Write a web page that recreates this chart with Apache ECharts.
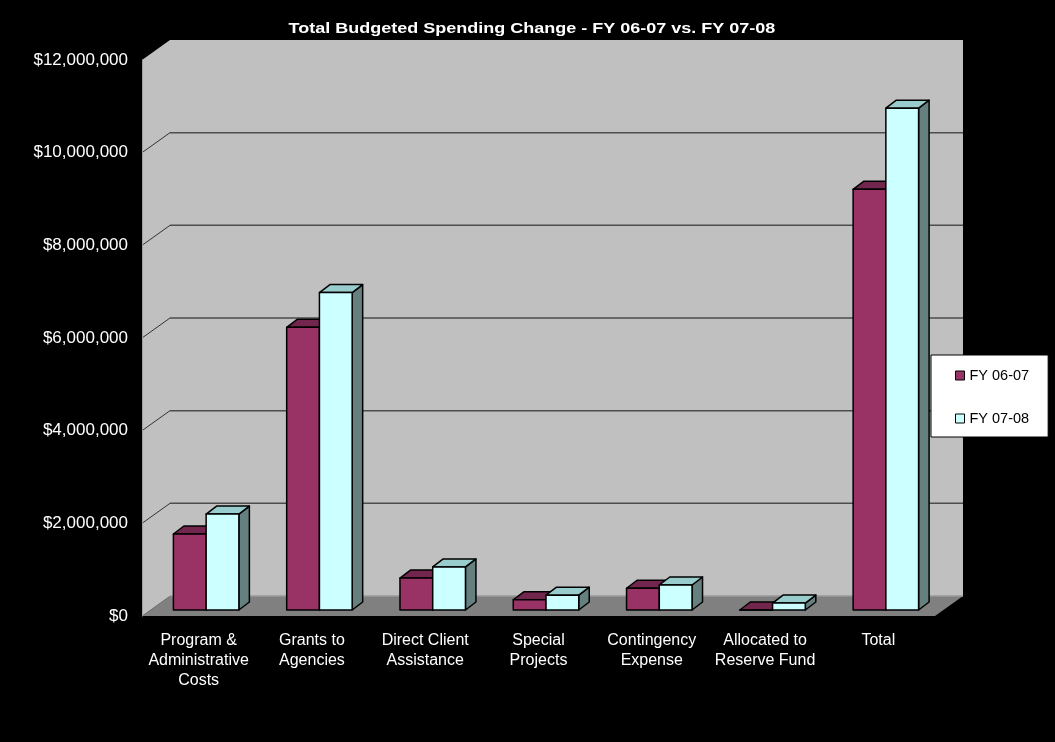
<!DOCTYPE html>
<html>
<head>
<meta charset="utf-8">
<script src="https://cdn.jsdelivr.net/npm/echarts@6/dist/echarts.min.js"></script>
<style>html,body{margin:0;padding:0;background:#000;}#c{width:1055px;height:742px;}</style>
</head>
<body>
<div id="c"></div>
<script>
// ---- data ----
const chartTitle = 'Total Budgeted Spending Change - FY 06-07 vs. FY 07-08';
const categories = ['Program &\nAdministrative\nCosts', 'Grants to\nAgencies', 'Direct Client\nAssistance', 'Special\nProjects', 'Contingency\nExpense', 'Allocated to\nReserve Fund', 'Total'];
const seriesNames = ['FY 06-07', 'FY 07-08'];
const fy0607 = [1640000, 6100000, 690000, 220000, 470000, 0, 9080000];
const fy0708 = [2070000, 6850000, 930000, 320000, 540000, 150000, 10830000];
const yMin = 0, yMax = 12000000, yInterval = 2000000;
const gridTicks = [2000000, 4000000, 6000000, 8000000, 10000000];

// ---- style ----
const FONT = 'Liberation Sans, Arial, sans-serif';
const DEPTH_X = 28, DEPTH_Y = -20;       // wall depth offset
const SHIFT_X = 7.5, SHIFT_Y = -6;       // bar plane offset from front
const BAR_DX = 10.5, BAR_DY = -8;        // bar depth
const BAR_FRAC = 0.289;
const palettes = [
  {front: '#993366', top: '#73264D', side: '#66223F'},
  {front: '#CCFFFF', top: '#99CCCC', side: '#668080'}
];

function fmt(v) { return '$' + v.toString().replace(/\B(?=(\d{3})+(?!\d))/g, ','); }

function wallRender(params, api) {
  const cs = params.coordSys;
  const L = cs.x, R = cs.x + cs.width, T = cs.y, B = cs.y + cs.height;
  const children = [
    {type: 'polygon', shape: {points: [[L, T], [L + DEPTH_X, T + DEPTH_Y], [L + DEPTH_X, B + DEPTH_Y], [L, B]]}, style: {fill: '#C0C0C0'}},
    {type: 'rect', shape: {x: L + DEPTH_X, y: T + DEPTH_Y, width: R - L, height: B - T}, style: {fill: '#C0C0C0'}},
    {type: 'polygon', shape: {points: [[L, B], [R, B], [R + DEPTH_X, B + DEPTH_Y], [L + DEPTH_X, B + DEPTH_Y]]}, style: {fill: '#808080'}},
    {type: 'line', shape: {x1: L + DEPTH_X, y1: B + DEPTH_Y, x2: R + DEPTH_X, y2: B + DEPTH_Y}, style: {stroke: '#9a9a9a', lineWidth: 1.5}}
  ];
  gridTicks.forEach(function (t) {
    const y = api.coord([0, t])[1];
    children.push({type: 'line', shape: {x1: L, y1: y, x2: L + DEPTH_X, y2: y + DEPTH_Y}, style: {stroke: '#333', lineWidth: 1}});
    children.push({type: 'line', shape: {x1: L + DEPTH_X, y1: y + DEPTH_Y, x2: R + DEPTH_X, y2: y + DEPTH_Y}, style: {stroke: '#4d4d4d', lineWidth: 1.5}});
  });
  return {type: 'group', children: children};
}

function barRender(sideIdx) {
  const pal = palettes[sideIdx];
  return function (params, api) {
    const i = api.value(0), v = api.value(1);
    const base = api.coord([i, 0]);
    const top = api.coord([i, v]);
    const band = api.size([1, 0])[0];
    const bw = band * BAR_FRAC;
    const cx = base[0] + SHIFT_X;
    const x0 = sideIdx === 0 ? cx - bw : cx;
    const x1 = x0 + bw;
    const yb = base[1] + SHIFT_Y, yt = top[1] + SHIFT_Y;
    const st = {stroke: '#000', lineWidth: 1.5, lineJoin: 'round'};
    return {type: 'group', children: [
      {type: 'polygon', shape: {points: [[x1, yb], [x1 + BAR_DX, yb + BAR_DY], [x1 + BAR_DX, yt + BAR_DY], [x1, yt]]}, style: Object.assign({fill: pal.side}, st)},
      {type: 'polygon', shape: {points: [[x0, yt], [x1, yt], [x1 + BAR_DX, yt + BAR_DY], [x0 + BAR_DX, yt + BAR_DY]]}, style: Object.assign({fill: pal.top}, st)},
      {type: 'polygon', shape: {points: [[x0, yb], [x1, yb], [x1, yt], [x0, yt]]}, style: Object.assign({fill: pal.front}, st)}
    ]};
  };
}

const chart = echarts.init(document.getElementById('c'), null, {renderer: 'canvas'});
chart.setOption({
  backgroundColor: '#000',
  animation: false,
  graphic: [{
    type: 'text', x: 532, y: 29, scaleX: 1.2, z: 10,
    style: {text: chartTitle, fill: '#fff', font: 'bold 15px ' + FONT, textAlign: 'center', textVerticalAlign: 'middle'}
  }],
  legend: {
    data: seriesNames,
    orient: 'vertical', left: 931, top: 355,
    backgroundColor: '#fff', borderColor: '#000', borderWidth: 1,
    padding: [13, 19, 11, 24], itemGap: 28,
    itemWidth: 9, itemHeight: 9, icon: 'rect',
    itemStyle: {borderColor: '#000', borderWidth: 1},
    textStyle: {color: '#000', fontSize: 14.5, fontFamily: FONT}
  },
  grid: {left: 142, right: 120, top: 60, bottom: 126, containLabel: false},
  xAxis: {
    type: 'category', data: categories,
    axisLine: {show: false}, axisTick: {show: false},
    axisLabel: {interval: 0, color: '#fff', fontSize: 16, lineHeight: 20, margin: 15, fontFamily: FONT}
  },
  yAxis: {
    type: 'value', min: yMin, max: yMax, interval: yInterval, z: 5,
    axisLine: {show: true, lineStyle: {color: '#a0a0a0', width: 1}},
    axisTick: {show: false}, splitLine: {show: false},
    axisLabel: {color: '#fff', fontSize: 17, margin: 14, fontFamily: FONT, formatter: fmt}
  },
  series: [
    {type: 'custom', name: 'walls', silent: true, renderItem: wallRender, data: [[0, 0]], encode: {x: 0, y: 1}, z: 1},
    {type: 'custom', name: seriesNames[0], renderItem: barRender(0), data: fy0607.map(function (v, i) { return [i, v]; }), encode: {x: 0, y: 1}, itemStyle: {color: palettes[0].front, borderColor: '#000', borderWidth: 1}, z: 2},
    {type: 'custom', name: seriesNames[1], renderItem: barRender(1), data: fy0708.map(function (v, i) { return [i, v]; }), encode: {x: 0, y: 1}, itemStyle: {color: palettes[1].front, borderColor: '#000', borderWidth: 1}, z: 2}
  ]
});
</script>
</body>
</html>
